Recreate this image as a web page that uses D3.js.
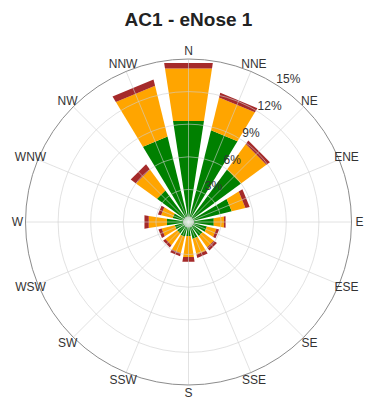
<!DOCTYPE html>
<html>
<head>
<meta charset="utf-8">
<script src="https://cdn.jsdelivr.net/npm/d3@7"></script>
<style>
  html, body { margin: 0; padding: 0; background: #fff; }
  svg { display: block; font-family: "Liberation Sans", Arial, Helvetica, sans-serif; }
</style>
</head>
<body>
<svg id="chart" width="365" height="399"></svg>
<script>
// ---- data ----
const directions = ["N","NNE","NE","ENE","E","ESE","SE","SSE","S","SSW","SW","WSW","W","WNW","NW","NNW"];
// frequency (%) per speed bin, stacked outward: green, orange, brown
const binLow  = [9.4, 8.7, 6.0, 4.1, 2.35, 1.75, 1.6, 1.6, 1.3, 1.4, 1.3, 1.3, 2.0, 1.5, 3.6, 8.1];
const binMid  = [4.9, 3.1, 2.9, 1.3, 0.95, 0.9, 1.3, 1.5, 1.95, 1.55, 1.35, 1.25, 1.7, 1.1, 2.4, 4.8];
const binHigh = [0.5, 0.45, 0.4, 0.4, 0.15, 0.25, 0.35, 0.3, 0.45, 0.3, 0.25, 0.3, 0.4, 0.3, 0.6, 0.6];
const binColors = ["#008000", "#FFA500", "#A52A2A"];
const ringTicks = [3, 6, 9, 12, 15];
const ringLabels = ["3%", "6%", "9%", "12%", "15%"];
const title = "AC1 - eNose 1";

// ---- layout ----
const svg = d3.select("#chart");
const cx = 188.5, cy = 222, R = 163;
const r = d3.scaleLinear().domain([0, 15]).range([0, R]);
const ang = d3.scaleLinear().domain([0, directions.length]).range([0, 360]);
const halfW = 8.7; // degrees
const toXY = (rad, deg) => {
  const a = deg * Math.PI / 180;
  return [cx + rad * Math.sin(a), cy - rad * Math.cos(a)];
};

svg.append("text")
  .attr("x", cx).attr("y", 26)
  .attr("text-anchor", "middle")
  .attr("font-size", 19).attr("font-weight", "bold").attr("fill", "#222")
  .text(title);

// ---- bars ----
const bins = [binLow, binMid, binHigh];
const segs = [];
directions.forEach((d, i) => {
  let acc = 0;
  bins.forEach((b, k) => {
    segs.push({ i, k, r0: acc, r1: acc + b[i] });
    acc += b[i];
  });
});
const line = d3.line();
svg.append("g").selectAll("path").data(segs).join("path")
  .attr("d", s => {
    const th = ang(s.i);
    return line([
      toXY(r(s.r0), th - halfW), toXY(r(s.r1), th - halfW),
      toXY(r(s.r1), th + halfW), toXY(r(s.r0), th + halfW)
    ]) + "Z";
  })
  .attr("fill", s => binColors[s.k]);

// ---- grid (on top) ----
const grid = svg.append("g").attr("fill", "none");
grid.selectAll("circle.ring").data(ringTicks.slice(0, -1)).join("circle")
  .attr("cx", cx).attr("cy", cy).attr("r", d => r(d))
  .attr("stroke", "#cfcfcf").attr("stroke-opacity", 0.6).attr("stroke-width", 1);
grid.selectAll("line.spoke").data(directions).join("line")
  .attr("x1", cx).attr("y1", cy)
  .attr("x2", (d, i) => toXY(R, ang(i))[0])
  .attr("y2", (d, i) => toXY(R, ang(i))[1])
  .attr("stroke", "#cfcfcf").attr("stroke-opacity", 0.6).attr("stroke-width", 1);
grid.append("circle")
  .attr("cx", cx).attr("cy", cy).attr("r", r(15))
  .attr("stroke", "#8c8c8c").attr("stroke-width", 1);
svg.append("circle")
  .attr("cx", cx).attr("cy", cy).attr("r", 5)
  .attr("fill", "#ffffff").attr("fill-opacity", 0.6)
  .attr("stroke", "#cccccc");

// ---- labels ----
svg.append("g").selectAll("text").data(directions).join("text")
  .attr("x", (d, i) => toXY(171, ang(i))[0])
  .attr("y", (d, i) => toXY(171, ang(i))[1])
  .attr("text-anchor", "middle").attr("dominant-baseline", "central")
  .attr("font-size", 12).attr("fill", "#333")
  .text(d => d);

svg.append("g").selectAll("text").data(ringTicks).join("text")
  .attr("x", d => toXY(r(d) + 11, 35)[0])
  .attr("y", d => toXY(r(d) + 11, 35)[1])
  .attr("text-anchor", "middle").attr("dominant-baseline", "central")
  .attr("font-size", 12).attr("fill", "#333")
  .text((d, i) => ringLabels[i]);
</script>
</body>
</html>
